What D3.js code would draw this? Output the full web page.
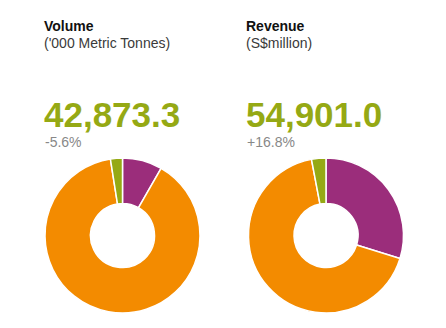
<!DOCTYPE html>
<html><head><meta charset="utf-8">
<script src="https://cdn.jsdelivr.net/npm/d3@7"></script>
<style>html,body{margin:0;padding:0;background:#fff;}</style>
</head><body>
<svg id="chart" width="446" height="328"></svg>
<script>
const titles = ["Volume", "Revenue"];
const units = ["('000 Metric Tonnes)", "(S$million)"];
const totals = ["42,873.3", "54,901.0"];
const changes = ["-5.6%", "+16.8%"];
const segments = ["Purple", "Orange", "Green"];
const volumeShares = [8.3, 89.2, 2.5];
const revenueShares = [29.8, 67.2, 3.0];
const colors = ["#9b2d7b", "#f38b00", "#95a914"];

const svg = d3.select("#chart");
const panels = [volumeShares, revenueShares];
const xs = [44, 246];
const cxs = [122.5, 326];
const color = d3.scaleOrdinal().domain(segments).range(colors);
const pie = d3.pie().sort(null).value(d => d.v);
const arc = d3.arc().innerRadius(32).outerRadius(77.5);

panels.forEach((vals, i) => {
  const g = svg.append("g");
  g.append("text").attr("x", xs[i]).attr("y", 31)
    .attr("font-family", "Liberation Sans, Arial, sans-serif").attr("font-weight", "bold")
    .attr("font-size", 14).attr("fill", "#111").text(titles[i]);
  g.append("text").attr("x", xs[i]).attr("y", 48)
    .attr("font-family", "Liberation Sans, Arial, sans-serif")
    .attr("font-size", 14).attr("fill", "#3a3a3a").text(units[i]);
  g.append("text").attr("x", xs[i]).attr("y", 127)
    .attr("font-family", "Liberation Sans, Arial, sans-serif").attr("font-weight", "bold")
    .attr("font-size", 35).attr("fill", "#95a914").text(totals[i]);
  g.append("text").attr("x", xs[i] + 1).attr("y", 146.5)
    .attr("font-family", "Liberation Sans, Arial, sans-serif")
    .attr("font-size", 14).attr("fill", "#888").text(changes[i]);

  const data = segments.map((s, k) => ({s, v: vals[k]}));
  const dg = g.append("g").attr("transform", `translate(${cxs[i]},235.5)`);
  dg.selectAll("path").data(pie(data)).join("path")
    .attr("d", arc)
    .attr("fill", d => color(d.data.s))
    .attr("stroke", "#fff").attr("stroke-width", 1.5);
});
</script>
</body></html>
